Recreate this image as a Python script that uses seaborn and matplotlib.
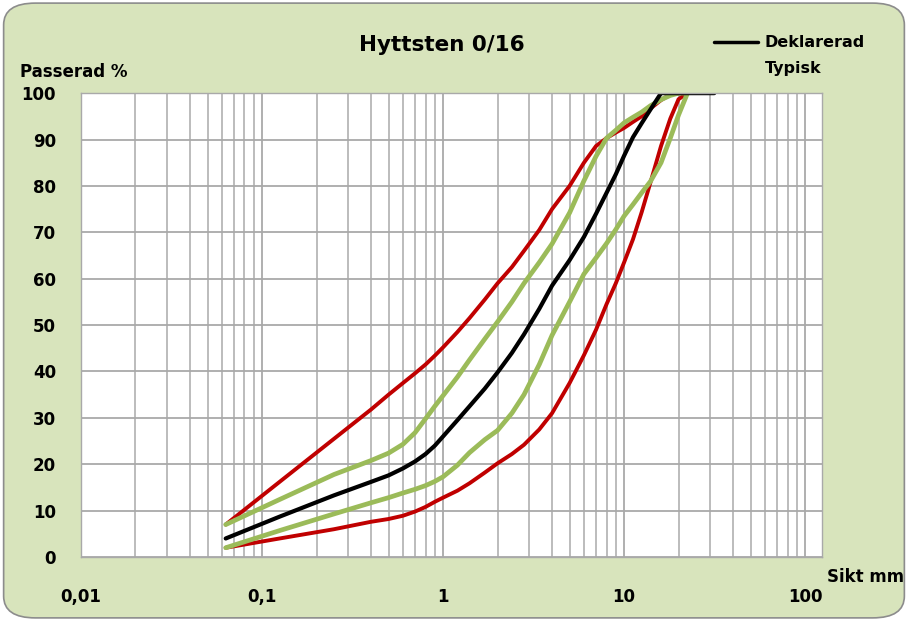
import pandas as pd
import matplotlib
matplotlib.use("Agg")
import matplotlib.pyplot as plt
from matplotlib.patches import FancyBboxPatch
from matplotlib.lines import Line2D
import seaborn as sns

sns.set_style("white")
plt.rcParams['font.family'] = ['DejaVu Sans']
plt.rcParams['font.weight'] = 'bold'
plt.rcParams['text.color'] = 'black'

# Siktstorlekar (mm) och passerande mängd (%)
sikt = [0.063, 0.125, 0.25, 0.4, 0.5, 0.6, 0.7, 0.8, 0.9, 1, 1.2, 1.4, 1.7, 2, 2.4, 2.8,
        3.4, 4, 5, 6, 7, 8, 9, 10, 11.2, 12.5, 14, 16, 18, 20, 22.4]
sikt_dekl = sikt + [31.5]

deklarerad = [4, 8.7, 13.3, 16.2, 17.6, 19.1, 20.6, 22.2, 24, 26, 29.5, 32.5, 36.3, 39.8, 44, 48,
              53.5, 58.5, 64, 69, 74, 78.5, 82.5, 86.5, 90.5, 93.5, 96.5, 100, 100, 100, 100, 100]
ovre_grans = [7, 16.2, 25.5, 31.8, 35, 37.5, 39.6, 41.5, 43.4, 45.2, 48.5, 51.5, 55.5, 59, 62.5, 66,
              70.5, 75, 80, 85, 88.6, 90.3, 91.5, 92.5, 93.8, 95, 96.7, 98.5, 99.7, 100, 100]
undre_grans = [2, 4, 6, 7.6, 8.2, 8.9, 9.8, 10.8, 11.9, 12.8, 14.3, 15.9, 18.2, 20.2, 22.2, 24.2,
               27.5, 31, 37.5, 43.5, 49, 54.5, 59, 63.5, 68.5, 74.3, 80.8, 88.6, 94.5, 98.7, 100]
typisk_ovre = [7, 12.4, 17.8, 20.8, 22.4, 24.3, 26.8, 29.8, 32.5, 34.8, 38.8, 42.5, 47, 50.7, 55, 59,
               63.5, 67.5, 74.2, 81.1, 86.4, 90.3, 92, 93.6, 94.8, 95.9, 97.3, 98.6, 99.5, 100, 100]
typisk_undre = [2, 5.7, 9.3, 11.7, 12.8, 13.8, 14.6, 15.4, 16.3, 17.3, 19.8, 22.5, 25.3, 27.3, 31, 35,
                41.5, 47.8, 55, 61, 64.5, 67.6, 70.6, 73.5, 76, 78.5, 81, 85, 90.3, 95.3, 100]

x_ticks = [0.01, 0.1, 1, 10, 100]
x_labels = ["0,01", "0,1", "1", "10", "100"]
y_ticks = list(range(0, 101, 10))

bg = "#d8e4bc"
red = "#c00000"
green = "#9bbb59"
grid = "#a9a9a9"

fig = plt.figure(figsize=(9.08, 6.21), dpi=100)
fig.patch.set_facecolor("white")
fig.add_artist(FancyBboxPatch((0.004, 0.005), 0.992, 0.99, boxstyle="round,pad=0,rounding_size=0.035",
                              transform=fig.transFigure, facecolor=bg, edgecolor="#8c8c8c",
                              linewidth=1.2, zorder=-10))

ax = fig.add_axes([0.0892, 0.103, 0.8161, 0.747])
ax.set_facecolor("white")

for xs, ys, col, lw in [(sikt, ovre_grans, red, 2.8), (sikt, undre_grans, red, 2.8),
                        (sikt, typisk_ovre, green, 3.4), (sikt, typisk_undre, green, 3.4),
                        (sikt_dekl, deklarerad, "black", 3.0)]:
    df = pd.DataFrame({"Sikt": xs, "Passerad": ys})
    sns.lineplot(data=df, x="Sikt", y="Passerad", color=col, linewidth=lw, sort=False,
                 ax=ax, solid_capstyle="round", solid_joinstyle="round")

ax.set_xscale("log")
ax.set_xlim(0.01, 124)
ax.set_ylim(0, 100)
ax.set_xticks(x_ticks, x_labels)
ax.set_xticks([m * 10.0 ** e for e in range(-2, 2) for m in range(2, 10)], minor=True)
ax.set_yticks(y_ticks)
ax.grid(True, which="major", color=grid, linewidth=1.3)
ax.grid(True, which="minor", axis="x", color=grid, linewidth=1.1)
ax.set_axisbelow(True)
ax.tick_params(axis="x", which="major", direction="out", length=5, width=1, color=grid,
               pad=17, labelsize=12, labelcolor="black")
ax.tick_params(axis="x", which="minor", length=0)
ax.tick_params(axis="y", direction="out", length=5, width=1, color=grid, pad=13, labelsize=12,
               labelcolor="black")
for lab in ax.get_xticklabels() + ax.get_yticklabels():
    lab.set_fontweight("bold")
ax.set_xlabel("")
ax.set_ylabel("")
for s in ax.spines.values():
    s.set_color(grid)
    s.set_linewidth(1)

fig.text(0.487, 0.927, "Hyttsten 0/16", ha="center", va="center", fontsize=15.5, fontweight="bold")
fig.text(0.022, 0.884, "Passerad %", ha="left", va="center", fontsize=12, fontweight="bold")
fig.text(0.911, 0.071, "Sikt mm", ha="left", va="center", fontsize=12, fontweight="bold")

handles = [Line2D([], [], color="black", linewidth=2.5),
           Line2D([], [], color="none")]
fig.legend(handles, ["Deklarerad", "Typisk"], loc="upper left", bbox_to_anchor=(0.77, 0.966),
           frameon=False, handlelength=2.8, handletextpad=0.4, labelspacing=0.65,
           prop={"weight": "bold", "size": 11.5})

fig.savefig("out.png", dpi=100)
